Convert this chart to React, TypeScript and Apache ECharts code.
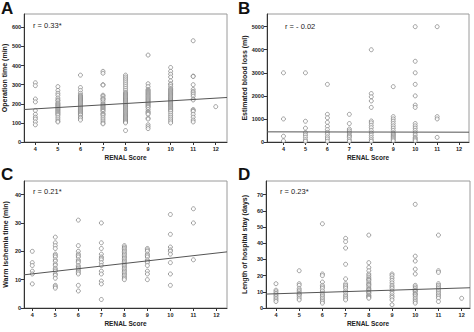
import React, { useEffect, useRef } from "react";
import * as echarts from "echarts";

const scores = [4, 5, 6, 7, 8, 9, 10, 11, 12];
const xTicks = [4, 5, 6, 7, 8, 9, 10, 11, 12];

// A: operation time (min), one list per RENAL score 4..12
const operationTime: number[][] = [
  [310, 295, 225, 210, 165, 145, 130, 120, 105, 90],
  [290, 270, 255, 245, 230, 220, 215, 205, 200, 195, 190, 185, 180, 175, 170, 165, 160, 155, 150, 145, 140, 130, 120, 110, 105],
  [350, 285, 270, 255, 245, 240, 235, 230, 225, 220, 215, 210, 205, 200, 195, 190, 185, 180, 175, 170, 165, 160, 155, 150, 145, 140, 130, 125, 115],
  [370, 360, 300, 298, 245, 240, 230, 225, 220, 210, 200, 195, 190, 185, 180, 175, 170, 165, 160, 150, 145, 140, 130, 120, 110, 100, 95],
  [350, 340, 330, 320, 310, 300, 290, 280, 270, 260, 255, 250, 245, 240, 235, 230, 225, 220, 215, 210, 205, 200, 195, 190, 185, 180, 175, 170, 165, 160, 155, 150, 145, 140, 135, 130, 125, 120, 115, 110, 105, 100, 60],
  [455, 305, 290, 275, 270, 265, 260, 255, 250, 245, 240, 235, 230, 225, 220, 215, 210, 205, 200, 195, 190, 185, 180, 170, 160, 155, 150, 145, 125, 120, 90, 80, 70],
  [390, 370, 355, 340, 320, 305, 300, 290, 280, 275, 270, 265, 260, 255, 250, 245, 240, 235, 230, 225, 220, 215, 210, 205, 200, 195, 190, 185, 180, 175, 170, 165, 160, 150, 140, 130, 120, 110, 100],
  [530, 345, 343, 300, 275, 265, 258, 250, 240, 225, 220, 170, 165, 160, 145, 130, 115, 105],
  [185],
];

// B: estimated blood loss (ml)
const bloodLoss: number[][] = [
  [3000, 1000, 250, 50],
  [3000, 900, 600, 400, 300, 200, 100, 30],
  [2500, 1200, 1050, 850, 680, 540, 420, 330, 220, 130, 30],
  [1200, 800, 560, 480, 390, 300, 250, 190, 100, 30],
  [4000, 2100, 1960, 1780, 1500, 910, 830, 720, 620, 500, 390, 290, 190, 100, 30],
  [2400, 1100, 1000, 900, 800, 700, 600, 500, 400, 350, 300, 250, 200, 150, 100, 50],
  [5000, 3500, 3000, 2500, 2000, 1600, 1500, 800, 700, 600, 500, 400, 300, 200, 150, 100, 50],
  [5000, 1100, 1000, 200],
  [],
];

// C: warm ischemia time (min)
const ischemiaTime: number[][] = [
  [20, 16, 15, 13, 12, 8.5],
  [25, 23, 22, 21, 19, 18.5, 18, 17, 16.5, 15.5, 15, 14, 13.5, 13, 12, 11.5, 10.5, 8, 7.5, 7],
  [31, 22, 20, 19, 18.5, 18, 17, 16.5, 16, 15, 14.5, 14, 13.5, 13, 12.5, 12, 8, 6],
  [30, 23, 21, 19, 18, 17.5, 17, 16, 15, 13, 12, 9.5, 8.5, 3],
  [22, 21.5, 21, 20.5, 20, 19.5, 19, 18.5, 18, 17.5, 17, 16.5, 16, 15.5, 15, 14.5, 14, 13.5, 13, 12.5, 12, 11.5, 11, 10.5, 10],
  [21, 20.5, 20, 19, 18.5, 18, 17, 16.5, 16, 15, 13, 12, 10],
  [33, 26, 21.5, 20.5, 20, 19, 16, 12, 8],
  [35, 30, 17],
  [],
];

// D: length of hospital stay (days)
const hospitalStay: number[][] = [
  [15, 11, 10, 9, 8, 7, 6, 5, 4],
  [23, 15, 14, 12, 11, 10, 9, 8.5, 8, 7, 6, 5],
  [52, 21, 20, 16, 14, 13, 12, 10.5, 9, 8, 7, 6, 5, 4, 3],
  [43, 41, 37, 27, 18, 15, 14, 13, 12, 10.5, 9.5, 8, 7, 6, 5],
  [45, 28, 25, 23, 21, 20, 19, 18, 17.5, 17, 16, 15, 14.5, 14, 13, 12, 11.5, 11, 10, 9.5, 9, 8, 7.5, 7, 6.5, 6],
  [21, 20, 18.5, 17, 15.5, 14, 13, 12, 10.5, 9, 7.5, 6.5, 5, 2],
  [64, 32, 29, 24, 21, 14, 13, 12, 11, 10.5, 10, 9, 8.5, 8, 7, 6, 5, 4, 3],
  [45, 23, 22, 15, 14, 13, 12, 11, 10, 9, 8, 7, 6, 4],
  [6],
];

// regression line end points
const fitOperation = [[3.5, 170], [12.5, 233]];
const fitBlood = [[3.25, 440], [12.45, 425]];
const fitIschemia = [[3.64, 11.7], [12.46, 19.8]];
const fitStay = [[3.57, 8.6], [12.36, 12.5]];

const yTicksA = [0, 100, 200, 300, 400, 500, 600];
const yTicksB = [0, 1000, 2000, 3000, 4000, 5000];
const yTicksC = [0, 10, 20, 30, 40];
const yTicksD = [0, 10, 20, 30, 40, 50, 60, 70];

const FONT = "Liberation Sans, Arial, sans-serif";

function toPoints(lists: number[][]) {
  const out: number[][] = [];
  scores.forEach((s, i) => lists[i].forEach((v) => out.push([s, v])));
  return out;
}

export default function App() {
  const ref = useRef<HTMLDivElement>(null);
  useEffect(() => {
    if (!ref.current) return;
    const chart = echarts.init(ref.current, undefined, { renderer: "svg" });

    const grids = [
      { left: 24, top: 14, width: 203, height: 128 },
      { left: 267, top: 14, width: 202, height: 128 },
      { left: 24, top: 181, width: 203, height: 127 },
      { left: 266, top: 181, width: 204, height: 127 },
    ].map((g) => ({ ...g, show: true, borderColor: "#9a9a9a", borderWidth: 1, backgroundColor: "#fff" }));

    const xRanges = [
      [3.5, 12.5],
      [3.25, 12.45],
      [3.64, 12.46],
      [3.57, 12.36],
    ];
    const yRanges = [
      [0, 670],
      [0, 5550],
      [0, 44.8],
      [0, 78.4],
    ];
    const yTicks = [yTicksA, yTicksB, yTicksC, yTicksD];
    const yNames = [
      "Operation time (min)",
      "Estimated blood loss (ml)",
      "Warm ischemia time (min)",
      "Length of hospital stay (days)",
    ];
    const yNameGaps = [15, 19, 15, 18];
    const datasets = [operationTime, bloodLoss, ischemiaTime, hospitalStay];
    const fits = [fitOperation, fitBlood, fitIschemia, fitStay];

    const axisLine = { show: true, onZero: false, lineStyle: { color: "#333", width: 1 } };
    const plain = (v: number) => String(v);

    const xAxis = xRanges.map((r, i) => ({
      type: "value",
      gridIndex: i,
      min: r[0],
      max: r[1],
      name: "RENAL Score",
      nameLocation: "middle",
      nameGap: 12,
      nameTextStyle: { fontFamily: FONT, fontWeight: "bold", fontSize: 6.5, color: "#222" },
      axisLine,
      axisTick: { show: true, length: 3, customValues: xTicks, lineStyle: { color: "#333" } },
      axisLabel: {
        customValues: xTicks,
        formatter: plain,
        margin: 4,
        fontFamily: FONT,
        fontWeight: "bold",
        fontSize: 5.5,
        color: "#222",
      },
      splitLine: { show: false },
    }));

    const yAxis = yRanges.map((r, i) => ({
      type: "value",
      gridIndex: i,
      min: r[0],
      max: r[1],
      name: yNames[i],
      nameLocation: "middle",
      nameGap: yNameGaps[i],
      nameTextStyle: { fontFamily: FONT, fontWeight: "bold", fontSize: 7, color: "#222" },
      axisLine,
      axisTick: { show: true, length: 3, customValues: yTicks[i], lineStyle: { color: "#333" } },
      axisLabel: {
        customValues: yTicks[i],
        formatter: plain,
        margin: 3,
        fontFamily: FONT,
        fontWeight: "bold",
        fontSize: 5.5,
        color: "#222",
      },
      splitLine: { show: false },
    }));

    const series: any[] = [];
    datasets.forEach((d, i) => {
      series.push({
        type: "scatter",
        xAxisIndex: i,
        yAxisIndex: i,
        data: toPoints(d),
        symbol: "circle",
        symbolSize: 4,
        itemStyle: { color: "#fff", borderColor: "#6e6e6e", borderWidth: 0.8 },
        z: 2,
      });
      series.push({
        type: "line",
        xAxisIndex: i,
        yAxisIndex: i,
        data: fits[i],
        showSymbol: false,
        symbol: "none",
        lineStyle: { color: "#555", width: 1 },
        z: 3,
      });
    });

    const letter = (t: string, x: number, y: number) => ({
      type: "text",
      left: x,
      top: y,
      style: { text: t, fontFamily: FONT, fontWeight: "bold", fontSize: 17, fill: "#111" },
    });
    const rText = (t: string, x: number, y: number) => ({
      type: "text",
      left: x,
      top: y,
      style: { text: t, fontFamily: FONT, fontSize: 7.5, fill: "#222" },
    });

    chart.setOption({
      animation: false,
      backgroundColor: "#fff",
      grid: grids,
      xAxis,
      yAxis,
      series,
      graphic: [
        letter("A", 1, 0),
        letter("B", 238, 0),
        letter("C", 1, 166),
        letter("D", 238, 166),
        rText("r = 0.33*", 33, 21),
        rText("r = - 0.02", 285, 22),
        rText("r = 0.21*", 33, 187),
        rText("r = 0.23*", 280, 187),
      ],
    });
    return () => chart.dispose();
  }, []);
  return (
    <div
      ref={ref}
      style={{ position: "fixed", left: 0, top: 0, width: 474, height: 332, background: "#fff" }}
    />
  );
}
